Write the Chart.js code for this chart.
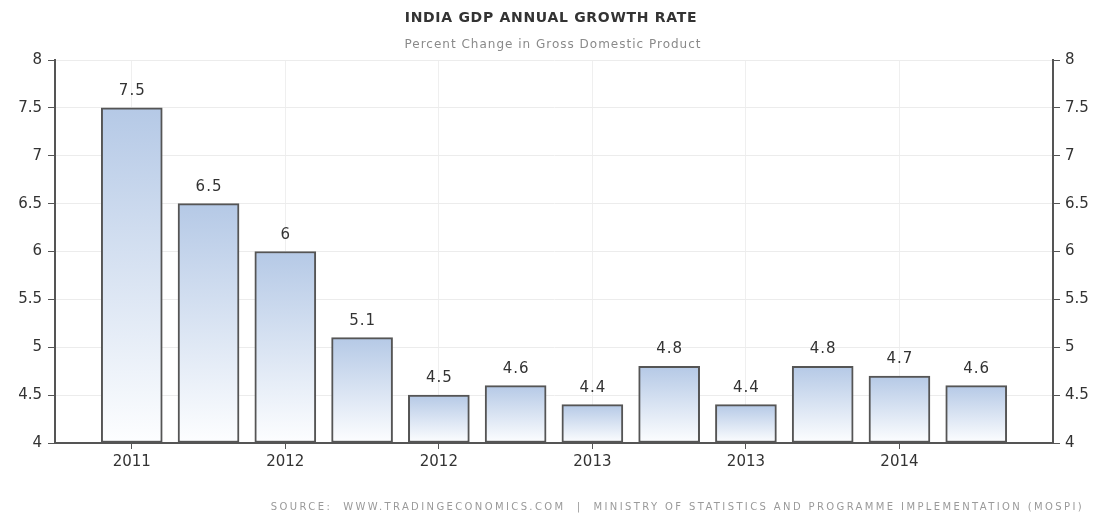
<!DOCTYPE html>
<html><head><meta charset="utf-8">
<script src="https://cdn.jsdelivr.net/npm/chart.js@4.4.1/dist/chart.umd.min.js"></script>
<style>html,body{margin:0;padding:0;background:#fff;}#wrap{width:1099px;height:518px;position:relative}</style>
</head><body><div id="wrap"><canvas id="c" width="1099" height="518"></canvas></div>
<script>
const quarters = ['Q2 2011','Q3 2011','Q4 2011','Q1 2012','Q2 2012','Q3 2012','Q4 2012','Q1 2013','Q2 2013','Q3 2013','Q4 2013','Q1 2014'];
const growth = [7.5, 6.5, 6, 5.1, 4.5, 4.6, 4.4, 4.8, 4.4, 4.8, 4.7, 4.6];
const xTickIndex = [0, 2, 4, 6, 8, 10];
const xTickLabels = ['2011', '2012', '2012', '2013', '2013', '2014'];
const yTickValues = [4, 4.5, 5, 5.5, 6, 6.5, 7, 7.5, 8];
const titleText = 'INDIA GDP ANNUAL GROWTH RATE';
const subtitleText = 'Percent Change in Gross Domestic Product';
const sourceText = 'SOURCE:  WWW.TRADINGECONOMICS.COM  |  MINISTRY OF STATISTICS AND PROGRAMME IMPLEMENTATION (MOSPI)';

const FONT = '"DejaVu Sans", Verdana, sans-serif';

function barGradient(ctx) {
  const chart = ctx.chart;
  const ca = chart.chartArea;
  if (!ca || ctx.dataIndex === undefined) return '#c9d8ee';
  const y = chart.scales.y;
  const top = y.getPixelForValue(growth[ctx.dataIndex]);
  const bottom = y.getPixelForValue(4);
  const g = chart.ctx.createLinearGradient(0, top, 0, bottom);
  g.addColorStop(0, '#b5c9e6');
  g.addColorStop(1, '#fdfeff');
  return g;
}

const textPlugin = {
  id: 'texts',
  afterDatasetsDraw(chart) {
    const ctx = chart.ctx;
    const meta = chart.getDatasetMeta(0);
    ctx.save();
    ctx.font = '15px ' + FONT;
    ctx.letterSpacing = '1px';
    ctx.fillStyle = '#333';
    ctx.textAlign = 'center';
    ctx.textBaseline = 'alphabetic';
    meta.data.forEach((bar, i) => {
      ctx.fillText(String(growth[i]), bar.x + 0.5, bar.y - 13);
    });
    ctx.restore();
  },
  afterDraw(chart) {
    const ctx = chart.ctx;
    ctx.save();
    ctx.textAlign = 'center';
    ctx.textBaseline = 'middle';
    ctx.fillStyle = '#333';
    ctx.font = 'bold 14px ' + FONT;
    ctx.letterSpacing = '0.7px';
    ctx.fillText(titleText, 551, 18);
    ctx.fillStyle = '#8a8a8a';
    ctx.font = '12px ' + FONT;
    ctx.letterSpacing = '1px';
    ctx.fillText(subtitleText, 553, 45);
    ctx.fillStyle = '#9a9a9a';
    ctx.font = '10px ' + FONT;
    ctx.textAlign = 'right';
    ctx.letterSpacing = '2.38px';
    ctx.fillText(sourceText, 1084, 507);
    ctx.restore();
  }
};

const tickFont = { family: FONT, size: 15 };

new Chart(document.getElementById('c'), {
  type: 'bar',
  data: {
    labels: quarters,
    datasets: [{
      data: growth.map((v, i) => ({ x: i, y: v })),
      backgroundColor: barGradient,
      borderColor: '#555',
      borderWidth: 2,
      borderSkipped: false,
      barThickness: 61,
      base: 4
    }]
  },
  options: {
    responsive: false,
    animation: false,
    layout: { padding: { top: 60, left: 0, right: 0, bottom: 0 } },
    plugins: { legend: { display: false }, tooltip: { enabled: false } },
    scales: {
      x: {
        type: 'linear',
        offset: false,
        min: -1,
        max: 12,
        afterBuildTicks(scale) { scale.ticks = xTickIndex.map(v => ({ value: v })); },
        afterFit(scale) { scale.height = 75; },
        ticks: {
          autoSkip: false,
          maxRotation: 0,
          color: '#333',
          font: tickFont,
          padding: 4,
          callback: (v, i) => xTickLabels[i]
        },
        grid: { offset: false, color: '#efefef', tickColor: '#555', tickLength: 6, lineWidth: 1 },
        border: { color: '#555', width: 2 }
      },
      y: {
        position: 'left',
        min: 4, max: 8,
        afterBuildTicks(scale) { scale.ticks = yTickValues.map(v => ({ value: v })); },
        afterFit(scale) { scale.width = 55; },
        ticks: { color: '#333', font: tickFont, padding: 6, callback: v => String(v) },
        grid: { color: '#ececec', tickColor: '#555', tickLength: 7, lineWidth: 1 },
        border: { color: '#555', width: 2 }
      },
      y2: {
        position: 'right',
        min: 4, max: 8,
        afterBuildTicks(scale) { scale.ticks = yTickValues.map(v => ({ value: v })); },
        afterFit(scale) { scale.width = 46; },
        ticks: { color: '#333', font: tickFont, padding: 5, callback: v => String(v) },
        grid: { drawOnChartArea: false, tickColor: '#555', tickLength: 7 },
        border: { color: '#555', width: 2 }
      }
    }
  },
  plugins: [textPlugin]
});
</script>
</body></html>
